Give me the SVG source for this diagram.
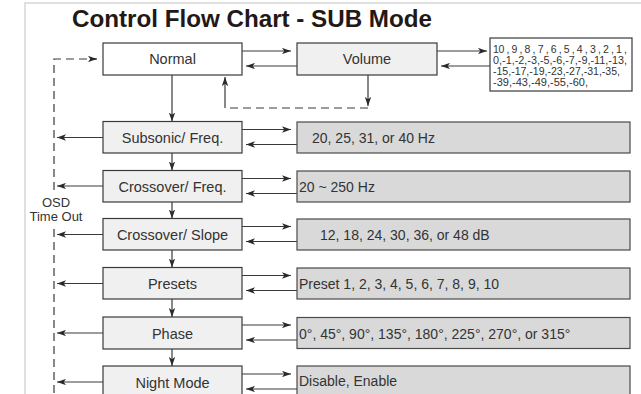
<svg xmlns="http://www.w3.org/2000/svg" width="641" height="394" viewBox="0 0 641 394">
<defs>
<style>
.frame{fill:none;stroke:#d6d6d6;stroke-width:1.5}
.title{font-family:"Liberation Sans",Arial,sans-serif;font-weight:bold;font-size:23px;fill:#231815}
.box{fill:#f0f0f0;stroke:#3a3a3a;stroke-width:1.2}
.white{fill:#ffffff;stroke:#3a3a3a;stroke-width:1.2}
.val{fill:#d9d9d9;stroke:#4a4a4a;stroke-width:1.2}
.lbl{font-family:"Liberation Sans",Arial,sans-serif;font-size:14.5px;fill:#333;text-anchor:middle}
.vt{font-family:"Liberation Sans",Arial,sans-serif;font-size:14px;fill:#333}
.sm{font-family:"Liberation Sans",Arial,sans-serif;font-size:10.5px;fill:#333}
.osd{font-family:"Liberation Sans",Arial,sans-serif;font-size:13px;fill:#333;text-anchor:middle}
.ln{fill:none;stroke:#3a3a3a;stroke-width:1.2}
.dash{fill:none;stroke:#3a3a3a;stroke-width:1.2;stroke-dasharray:8 5}
</style>
<marker id="ah" viewBox="0 0 10 7" refX="10" refY="3.5" markerWidth="9" markerHeight="6.3" markerUnits="userSpaceOnUse" orient="auto">
<path d="M0,0 L10,3.5 L0,7 L2.5,3.5 z" fill="#2a2a2a"/>
</marker>
</defs>
<rect width="641" height="394" fill="#ffffff"/>
<path class="frame" d="M25,394 V3 H641"/>
<text class="title" x="72" y="27" textLength="360" lengthAdjust="spacingAndGlyphs">Control Flow Chart - SUB Mode</text>

<g id="connectors">
<line class="ln" x1="242" y1="51" x2="291" y2="51" marker-end="url(#ah)"/>
<line class="ln" x1="297" y1="66" x2="246" y2="66" marker-end="url(#ah)"/>
<line class="ln" x1="437" y1="51" x2="487" y2="51" marker-end="url(#ah)"/>
<line class="ln" x1="490" y1="66" x2="441" y2="66" marker-end="url(#ah)"/>
<line class="ln" x1="368" y1="75" x2="368" y2="106" marker-end="url(#ah)"/>
<line class="dash" x1="368" y1="108" x2="225" y2="108"/>
<line class="ln" x1="225" y1="108" x2="225" y2="77" marker-end="url(#ah)"/>
<path class="dash" d="M54,190 V59 H96"/>
<line class="ln" x1="90" y1="59" x2="97" y2="59" marker-end="url(#ah)"/>
<line class="dash" x1="54" y1="229" x2="54" y2="394"/>
<line class="ln" x1="172" y1="75" x2="172" y2="121.5" marker-end="url(#ah)"/>
<line class="ln" x1="172" y1="153" x2="172" y2="170.5" marker-end="url(#ah)"/>
<line class="ln" x1="172" y1="202" x2="172" y2="218.5" marker-end="url(#ah)"/>
<line class="ln" x1="172" y1="250" x2="172" y2="267.5" marker-end="url(#ah)"/>
<line class="ln" x1="172" y1="299" x2="172" y2="317" marker-end="url(#ah)"/>
<line class="ln" x1="172" y1="349" x2="172" y2="366" marker-end="url(#ah)"/>
<line class="ln" x1="103" y1="137.5" x2="57" y2="137.5" marker-end="url(#ah)"/>
<line class="ln" x1="103" y1="186" x2="57" y2="186" marker-end="url(#ah)"/>
<line class="ln" x1="103" y1="234.5" x2="57" y2="234.5" marker-end="url(#ah)"/>
<line class="ln" x1="103" y1="283.5" x2="57" y2="283.5" marker-end="url(#ah)"/>
<line class="ln" x1="103" y1="333" x2="57" y2="333" marker-end="url(#ah)"/>
<line class="ln" x1="103" y1="382" x2="57" y2="382" marker-end="url(#ah)"/>
<line class="ln" x1="242" y1="129.5" x2="291" y2="129.5" marker-end="url(#ah)"/>
<line class="ln" x1="297" y1="144.5" x2="246" y2="144.5" marker-end="url(#ah)"/>
<line class="ln" x1="242" y1="178.5" x2="291" y2="178.5" marker-end="url(#ah)"/>
<line class="ln" x1="297" y1="193.5" x2="246" y2="193.5" marker-end="url(#ah)"/>
<line class="ln" x1="242" y1="226.5" x2="291" y2="226.5" marker-end="url(#ah)"/>
<line class="ln" x1="297" y1="241.5" x2="246" y2="241.5" marker-end="url(#ah)"/>
<line class="ln" x1="242" y1="275.5" x2="291" y2="275.5" marker-end="url(#ah)"/>
<line class="ln" x1="297" y1="290.5" x2="246" y2="290.5" marker-end="url(#ah)"/>
<line class="ln" x1="242" y1="325" x2="291" y2="325" marker-end="url(#ah)"/>
<line class="ln" x1="297" y1="340" x2="246" y2="340" marker-end="url(#ah)"/>
<line class="ln" x1="242" y1="374" x2="291" y2="374" marker-end="url(#ah)"/>
<line class="ln" x1="297" y1="389" x2="246" y2="389" marker-end="url(#ah)"/>
</g>

<g id="osd-label">
<text class="osd" x="56" y="206.5">OSD</text>
<text class="osd" x="56" y="221">Time Out</text>
</g>

<g id="normal">
<rect class="white" x="103" y="43" width="139" height="32"/>
<text class="lbl" x="172.5" y="64">Normal</text>
</g>
<g id="volume">
<rect class="box" x="297" y="43" width="140" height="32"/>
<text class="lbl" x="367" y="64">Volume</text>
</g>
<g id="volume-values">
<rect class="white" x="490" y="38" width="142" height="53"/>
<text class="sm" x="493" y="53" textLength="134" lengthAdjust="spacing">10 , 9 , 8 , 7 , 6 , 5 , 4 , 3 , 2 , 1 ,</text>
<text class="sm" x="493" y="64" textLength="134" lengthAdjust="spacingAndGlyphs">0,-1,-2,-3,-5,-6,-7,-9,-11,-13,</text>
<text class="sm" x="493" y="75" textLength="127" lengthAdjust="spacingAndGlyphs">-15,-17,-19,-23,-27,-31,-35,</text>
<text class="sm" x="493" y="86" textLength="95" lengthAdjust="spacingAndGlyphs">-39,-43,-49,-55,-60,</text>
</g>

<g id="subsonic">
<rect class="box" x="103" y="121.5" width="139" height="31.5"/>
<text class="lbl" x="172.5" y="143">Subsonic/ Freq.</text>
</g>
<g id="subsonic-values">
<rect class="val" x="297" y="122" width="333" height="31"/>
<text class="vt" x="312" y="143">20, 25, 31, or 40 Hz</text>
</g>

<g id="crossover-freq">
<rect class="box" x="103" y="170.5" width="139" height="31.5"/>
<text class="lbl" x="172.5" y="192">Crossover/ Freq.</text>
</g>
<g id="crossover-freq-values">
<rect class="val" x="297" y="171" width="333" height="31"/>
<text class="vt" x="299" y="192">20 ~ 250 Hz</text>
</g>

<g id="crossover-slope">
<rect class="box" x="103" y="218.5" width="139" height="31.5"/>
<text class="lbl" x="172.5" y="240">Crossover/ Slope</text>
</g>
<g id="crossover-slope-values">
<rect class="val" x="297" y="219" width="333" height="31"/>
<text class="vt" x="320" y="240">12, 18, 24, 30, 36, or 48 dB</text>
</g>

<g id="presets">
<rect class="box" x="103" y="267.5" width="139" height="31.5"/>
<text class="lbl" x="172.5" y="289">Presets</text>
</g>
<g id="presets-values">
<rect class="val" x="297" y="268" width="333" height="31"/>
<text class="vt" x="299" y="289">Preset 1, 2, 3, 4, 5, 6, 7, 8, 9, 10</text>
</g>

<g id="phase">
<rect class="box" x="103" y="317" width="139" height="32"/>
<text class="lbl" x="172.5" y="339">Phase</text>
</g>
<g id="phase-values">
<rect class="val" x="297" y="317.5" width="333" height="31"/>
<text class="vt" x="299" y="338.5">0°, 45°, 90°, 135°, 180°, 225°, 270°, or 315°</text>
</g>

<g id="night-mode">
<rect class="box" x="103" y="366" width="139" height="32"/>
<text class="lbl" x="172.5" y="388">Night Mode</text>
</g>
<g id="night-mode-values">
<rect class="val" x="297" y="366" width="333" height="32"/>
<text class="vt" x="299" y="386">Disable, Enable</text>
</g>
</svg>
